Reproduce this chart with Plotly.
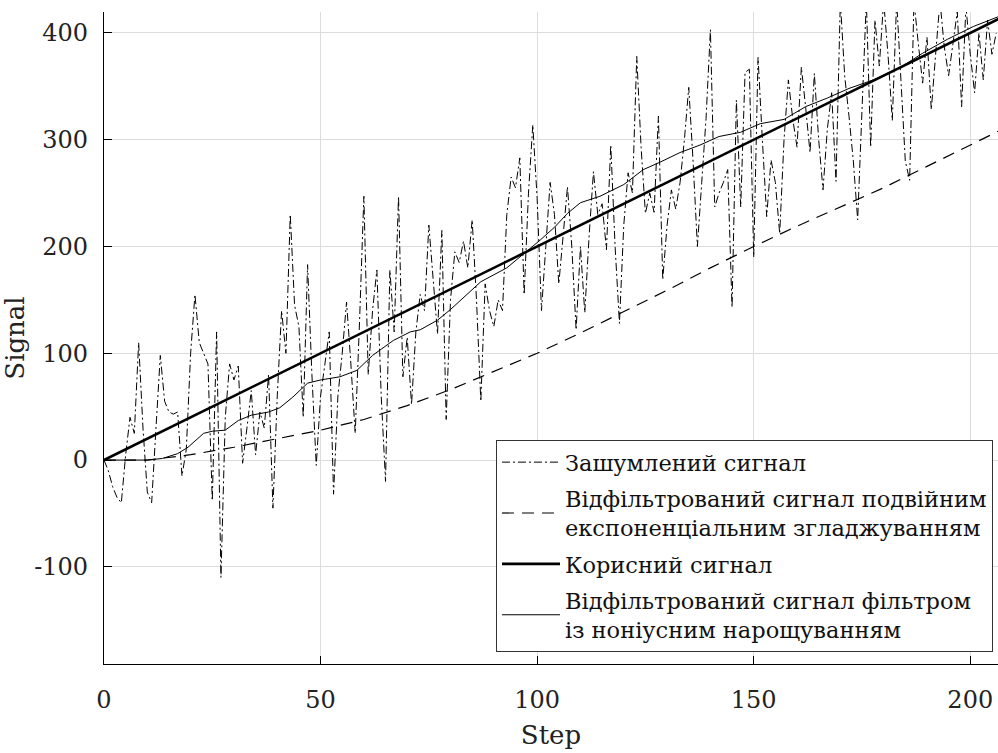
import plotly.graph_objects as go

# ---- data ----
steps_noisy = list(range(0, 207))
noisy = [
    0, -10, -25, -35, -40, 5, 40, 25, 110, 30,
    -30, -40, 30, 98, 55, 45, 43, 45, -15, 10,
    100, 155, 110, 100, 90, -38, 120, -110, 40, 90,
    75, 88, -3, 30, 65, 5, 45, 30, 80, -45,
    60, 140, 100, 230, 145, 125, 40, 183, 80, -5,
    60, 90, 120, -32, 60, 100, 148, 90, 25, 130,
    247, 80, 140, 178, 60, -20, 178, 120, 247, 78,
    115, 52, 120, 155, 140, 220, 170, 118, 215, 38,
    150, 195, 185, 205, 180, 225, 150, 55, 165, 140,
    125, 150, 140, 230, 265, 255, 283, 155, 250, 314,
    245, 140, 200, 260, 230, 165, 210, 256, 200, 122,
    200, 138, 210, 270, 230, 240, 197, 295, 200, 128,
    220, 269, 250, 378, 293, 231, 250, 232, 322, 169,
    220, 253, 235, 260, 300, 349, 280, 200, 260, 320,
    403, 237, 250, 260, 272, 143, 337, 237, 363, 366,
    190, 377, 300, 228, 281, 260, 212, 300, 356, 320,
    293, 368, 330, 288, 362, 300, 253, 310, 344, 261,
    430, 360, 322, 280, 225, 330, 430, 293, 412, 369,
    430, 380, 318, 430, 350, 280, 262, 430, 390, 353,
    396, 328, 380, 430, 387, 360, 390, 420, 331, 425,
    380, 344, 400, 356, 412, 380, 400,
]

steps_des = [0, 10, 20, 30, 40, 50, 60, 70, 80, 90, 100, 110, 120, 130,
             140, 150, 160, 170, 180, 190, 200, 207]
des = [0, 0, 5, 12, 20, 28, 38, 51, 66, 83, 100, 119, 139, 159,
       180, 200, 219, 237, 255, 275, 295, 309]

steps_useful = [0, 207]
useful = [0, 414]

steps_vern = [0, 10, 13.5, 17, 19.4, 23, 25, 28, 31, 34, 38, 40.6, 43.6, 47,
              50, 54.5, 58.4, 62, 66.8, 70.7, 73, 77, 80, 87, 93, 97.6,
              100.7, 104, 107, 110, 114.5, 120, 124.5, 128.4, 133, 137.6,
              142, 147, 151.5, 157, 162, 167, 172, 177.6, 184, 189, 194.7,
              200.7, 207]
vern = [0, 0, 1.5, 6, 12, 25, 27, 28, 37, 42, 45, 49, 59, 72,
        75, 78, 84, 98, 112, 120, 122, 131, 141, 167, 180, 195,
        206, 218, 231, 241, 247, 258, 272, 279, 288, 295,
        303, 307, 315, 319, 331, 339, 348, 356, 368, 381, 394,
        406, 416]

x_ticks = [0, 50, 100, 150, 200]
y_ticks = [-100, 0, 100, 200, 300, 400]
y_tick_text = ["-100", "0", "100", "200", "300", "400"]

names = [
    "Зашумлений сигнал",
    "Відфільтрований сигнал подвійним<br>експоненціальним згладжуванням",
    "Корисний сигнал",
    "Відфільтрований сигнал фільтром<br>із ноніусним нарощуванням",
]

FONT = "DejaVu Serif"

fig = go.Figure()
fig.add_trace(go.Scatter(x=steps_noisy, y=noisy, mode="lines", name=names[0], legendgroup="a",
                         line=dict(color="black", width=1, dash="8px,3px,2px,3px")))
fig.add_trace(go.Scatter(x=steps_des, y=des, mode="lines", name=names[1], legendgroup="b",
                         line=dict(color="black", width=1.2, dash="12px,8px")))
fig.add_trace(go.Scatter(x=steps_useful, y=useful, mode="lines", name=names[2], legendgroup="c",
                         line=dict(color="black", width=2.6)))
fig.add_trace(go.Scatter(x=steps_vern, y=vern, mode="lines", name=names[3], legendgroup="d",
                         line=dict(color="black", width=1)))

fig.update_layout(
    width=998, height=753,
    margin=dict(l=104, r=0, t=12, b=89),
    paper_bgcolor="white", plot_bgcolor="white",
    font=dict(family=FONT, color="#222", size=24),
    showlegend=True,
    legend=dict(
        x=0.9944, xanchor="right", y=0.0184, yanchor="bottom",
        bgcolor="white", bordercolor="#333", borderwidth=1,
        font=dict(family=FONT, size=22.5, color="#111"),
        itemwidth=58, tracegroupgap=4, traceorder="grouped",
    ),
    xaxis=dict(
        range=[0, 206.4], tickvals=x_ticks,
        showgrid=True, gridcolor="#dcdcdc", gridwidth=1,
        showline=True, linecolor="black", linewidth=1.2,
        ticks="inside", ticklen=8, tickcolor="black",
        zeroline=False, ticklabelstandoff=14,
        tickfont=dict(family=FONT, size=24, color="#222"),
        title=dict(text="Step", font=dict(family=FONT, size=26, color="#222"), standoff=12),
    ),
    yaxis=dict(
        range=[-191, 419.6], tickvals=y_ticks, ticktext=y_tick_text,
        showgrid=True, gridcolor="#dcdcdc", gridwidth=1,
        showline=True, linecolor="black", linewidth=1.2,
        ticks="inside", ticklen=8, tickcolor="black",
        zeroline=False, ticklabelstandoff=10,
        tickfont=dict(family=FONT, size=24, color="#222"),
        title=dict(text="Signal", font=dict(family=FONT, size=26, color="#222"), standoff=2),
    ),
)

fig.write_html("out.html")
